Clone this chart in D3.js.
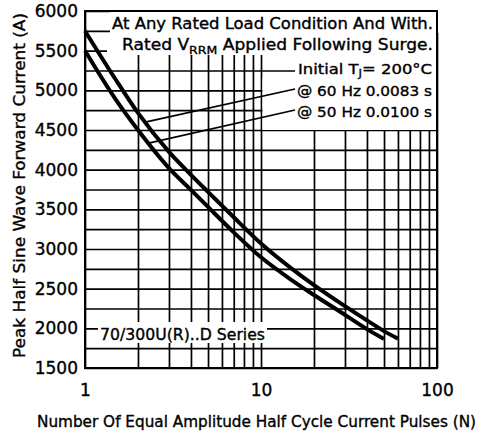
<!DOCTYPE html>
<html>
<head>
<meta charset="utf-8">
<script src="https://cdn.jsdelivr.net/npm/d3@7"></script>
<style>
  html, body { margin: 0; padding: 0; background: #fff; }
  svg { display: block; font-family: "DejaVu Sans", sans-serif; }
  svg text { stroke: #000; stroke-width: 0.35px; }
</style>
</head>
<body>
<div id="chart"></div>
<script>
// values (x is log scale)
const pulses60 = [1, 1.5, 2, 3, 4, 5, 7, 10, 15, 20, 30, 40, 50, 60];
const current60 = [5750, 5130, 4715, 4225, 3935, 3720, 3400, 3070, 2750, 2545, 2280, 2100, 1965, 1870];
const pulses50 = [1, 1.5, 2, 3, 4, 5, 7, 10, 15, 20, 30, 40, 50];
const current50 = [5500, 4880, 4500, 4020, 3745, 3530, 3210, 2895, 2605, 2420, 2170, 1990, 1865];

const xTicks = [1, 10, 100];
const xGrid = [1, 2, 3, 4, 5, 6, 7, 8, 9, 10, 20, 30, 40, 50, 60, 70, 80, 90, 100];
const yTicks = [1500, 2000, 2500, 3000, 3500, 4000, 4500, 5000, 5500, 6000];
const yGrid = [1500, 1750, 2000, 2250, 2500, 2750, 3000, 3250, 3500, 3750, 4000,
               4250, 4500, 4750, 5000, 5250, 5500, 5750, 6000];

const W = 479, H = 435;
const margin = { top: 11, right: 42, bottom: 67, left: 85 };
const width = W - margin.left - margin.right;
const height = H - margin.top - margin.bottom;

const svg = d3.select('#chart').append('svg')
  .attr('width', W)
  .attr('height', H);

const g = svg.append('g')
  .attr('transform', `translate(${margin.left},${margin.top})`);

const x = d3.scaleLog().domain([1, 100]).range([0, width]);
const y = d3.scaleLinear().domain([1500, 6000]).range([height, 0]);

// grid
g.append('g')
  .attr('class', 'grid')
  .attr('transform', `translate(0,${height})`)
  .call(d3.axisBottom(x).tickValues(xGrid).tickSize(-height).tickFormat(''))
  .call(s => s.select('.domain').remove());

g.append('g')
  .attr('class', 'grid')
  .call(d3.axisLeft(y).tickValues(yGrid).tickSize(-width).tickFormat(''))
  .call(s => s.select('.domain').remove());

g.selectAll('.grid line').attr('stroke', '#000').attr('stroke-width', 1.7);

// white patches behind the notes (grid is hidden there)
const masks = [
  [25, 0, width, 22],       // line 1
  [22, 22, width - 22, 22], // line 2
  [210, 44, width - 210, 75],
  [177.5, 67, 40, 52],
  [13, 311, 169, 21]        // series label
];
g.selectAll('.mask').data(masks).enter().append('rect')
  .attr('x', d => d[0]).attr('y', d => d[1])
  .attr('width', d => d[2]).attr('height', d => d[3])
  .attr('fill', '#fff');

// curves
const line = d3.line()
  .x(d => x(d[0]))
  .y(d => y(d[1]))
  .curve(d3.curveMonotoneX);

const data60 = pulses60.map((n, i) => [n, current60[i]]);
const data50 = pulses50.map((n, i) => [n, current50[i]]);

[data60, data50].forEach(d => {
  g.append('path')
    .datum(d)
    .attr('d', line)
    .attr('fill', 'none')
    .attr('stroke', '#000')
    .attr('stroke-width', 4);
});

// value on a curve at n (log-linear between read points)
function at(data, n) {
  const i = d3.bisector(d => d[0]).left(data, n);
  const a = data[i - 1], b = data[i];
  const t = (Math.log(n) - Math.log(a[0])) / (Math.log(b[0]) - Math.log(a[0]));
  return a[1] + t * (b[1] - a[1]);
}

// leaders
const leaders = [
  { data: data60, n: 2.2, tx: 210, ty: 78 },
  { data: data50, n: 2.3, tx: 210, ty: 99 }
];
leaders.forEach(l => {
  g.append('line')
    .attr('x1', x(l.n)).attr('y1', y(at(l.data, l.n)))
    .attr('x2', l.tx).attr('y2', l.ty)
    .attr('stroke', '#000').attr('stroke-width', 1.7);
});

// notes
const note = (tx, ty, size, len) => g.append('text')
  .attr('x', tx).attr('y', ty)
  .attr('font-size', size)
  .attr('textLength', len)
  .attr('lengthAdjust', 'spacingAndGlyphs');

note(27, 18, 15, 321).text('At Any Rated Load Condition And With.');

const l2 = note(37, 39, 15, 311);
l2.append('tspan').text('Rated V');
l2.append('tspan').attr('font-size', 11).attr('dy', 4).text('RRM');
l2.append('tspan').attr('dy', -4).text(' Applied Following Surge.');

const l3 = note(213, 63, 14, 134);
l3.append('tspan').text('Initial T');
l3.append('tspan').attr('font-size', 10).attr('dy', 3).text('J');
l3.append('tspan').attr('dy', -3).text('= 200°C');

note(212, 85, 14, 135).text('@ 60 Hz 0.0083 s');
note(212, 106, 14, 135).text('@ 50 Hz 0.0100 s');

note(15, 329, 15, 165).text('70/300U(R)..D Series');

// frame
g.append('rect')
  .attr('width', width).attr('height', height)
  .attr('fill', 'none')
  .attr('stroke', '#000')
  .attr('stroke-width', 2);

// axes labels
const xAxis = g.append('g')
  .attr('transform', `translate(0,${height})`)
  .call(d3.axisBottom(x).tickValues(xTicks).tickSize(0).tickPadding(16).tickFormat(d3.format('d')));
const yAxis = g.append('g')
  .call(d3.axisLeft(y).tickValues(yTicks).tickSize(0).tickPadding(7).tickFormat(d3.format('d')));

[xAxis, yAxis].forEach(a => {
  a.select('.domain').remove();
  a.selectAll('text')
    .attr('font-family', '"DejaVu Sans", sans-serif')
    .attr('font-size', 17)
    .attr('fill', '#000');
});

// titles
svg.append('text')
  .attr('x', 37).attr('y', 427)
  .attr('font-size', 15)
  .attr('textLength', 439)
  .attr('lengthAdjust', 'spacingAndGlyphs')
  .text('Number Of Equal Amplitude Half Cycle Current Pulses (N)');

svg.append('text')
  .attr('transform', 'translate(25,358) rotate(-90)')
  .attr('font-size', 16)
  .attr('textLength', 345)
  .attr('lengthAdjust', 'spacingAndGlyphs')
  .text('Peak Half Sine Wave Forward Current (A)');
</script>
</body>
</html>
